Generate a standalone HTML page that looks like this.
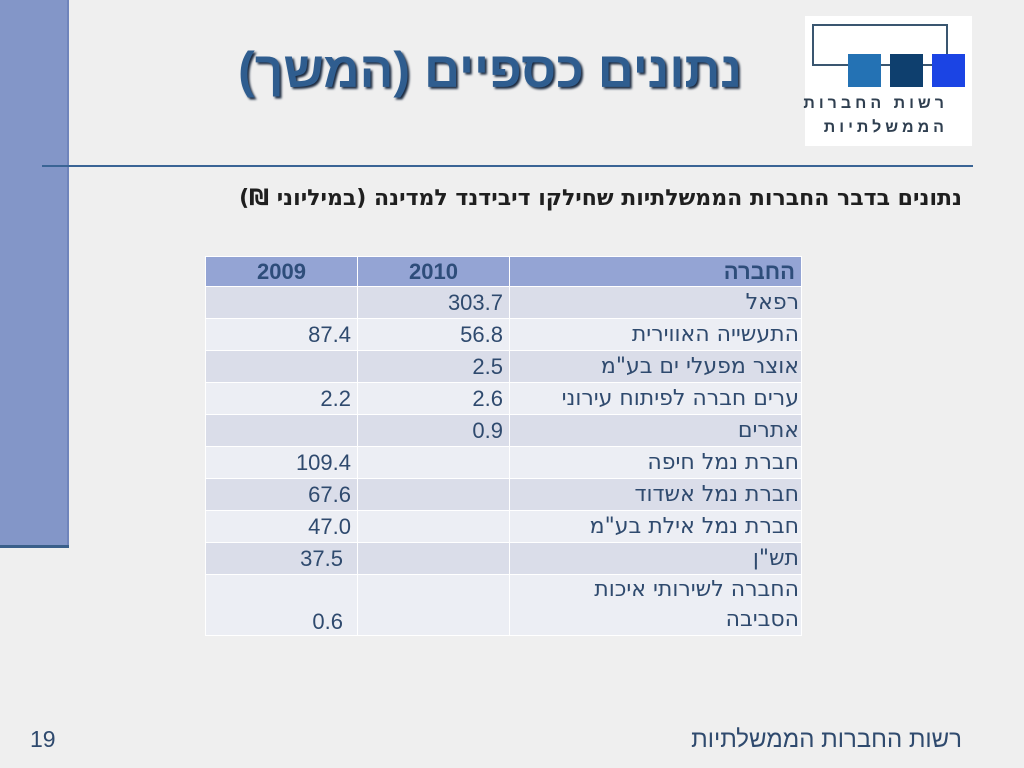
<!DOCTYPE html>
<html><head><meta charset="utf-8"><style>
body{margin:0;width:1024px;height:768px;position:relative;overflow:hidden;background:#efefef;font-family:"Liberation Sans","Noto Sans CJK SC",sans-serif;}
.abs{position:absolute;}
table{border-collapse:collapse;position:absolute;left:205px;top:256px;width:597px;font-size:22px;color:#2f4a6e;table-layout:fixed;}
td{border:1px solid #fff;padding:0 6px;height:31px;line-height:26px;white-space:nowrap;overflow:hidden;}
td.n{text-align:right;}
td.h{text-align:right;direction:rtl;font-family:"DejaVu Sans",sans-serif;font-size:22px;padding-right:2px;}
tr.hd td{background:#94a4d4;font-weight:bold;text-align:center;color:#2e4d7a;height:29px;font-size:22px;}
tr.d td{background:#dadde9;}
tr.l td{background:#eceef4;}
</style></head><body>
<div class="abs" style="left:0;top:0;width:67px;height:545px;background:#8396c8;"></div>
<div class="abs" style="left:0;top:545px;width:69px;height:3px;background:#3a5f8a;"></div>
<div class="abs" style="left:67px;top:0;width:2px;height:545px;background:#6f84bb;"></div>
<div class="abs" style="left:42px;top:165px;width:931px;height:2px;background:#3a6495;"></div>
<div class="abs" style="left:190px;top:40px;width:600px;text-align:center;font-size:50px;font-weight:bold;color:#2f5d8f;text-shadow:2px 2px 2px #1b2a40;direction:rtl;line-height:60px;white-space:nowrap;">נתונים כספיים (המשך)</div>
<div class="abs" style="left:805px;top:16px;width:167px;height:130px;background:#fff;"></div>
<div class="abs" style="left:812px;top:24px;width:132px;height:40px;border:2px solid #3a5670;border-bottom:none;"></div>
<div class="abs" style="left:812px;top:64px;width:134px;height:2px;background:#3a5670;"></div>
<div class="abs" style="left:848px;top:54px;width:33px;height:33px;background:#2472b4;"></div>
<div class="abs" style="left:890px;top:54px;width:33px;height:33px;background:#0e3f6e;"></div>
<div class="abs" style="left:932px;top:54px;width:33px;height:33px;background:#1b44e4;"></div>
<div class="abs" style="left:805px;top:92px;width:143px;text-align:right;direction:rtl;font-size:16px;letter-spacing:4px;color:#2f3f50;line-height:24px;font-weight:bold;white-space:nowrap;">רשות החברות<br>הממשלתיות</div>
<div class="abs" style="left:100px;top:186px;width:862px;text-align:right;direction:rtl;font-weight:bold;color:#1f1f1f;white-space:nowrap;font-family:'DejaVu Sans',sans-serif;font-size:22px;">נתונים בדבר החברות הממשלתיות שחילקו דיבידנד למדינה (במיליוני ₪)</div>
<table>
<tr class="hd"><td style="width:139px">2009</td><td style="width:139px">2010</td><td style="text-align:right;direction:rtl;">החברה</td></tr>
<tr class="d"><td class="n"></td><td class="n">303.7</td><td class="h">רפאל</td></tr>
<tr class="l"><td class="n">87.4</td><td class="n">56.8</td><td class="h">התעשייה האווירית</td></tr>
<tr class="d"><td class="n"></td><td class="n">2.5</td><td class="h">אוצר מפעלי ים בע"מ</td></tr>
<tr class="l"><td class="n">2.2</td><td class="n">2.6</td><td class="h">ערים חברה לפיתוח עירוני</td></tr>
<tr class="d"><td class="n"></td><td class="n">0.9</td><td class="h">אתרים</td></tr>
<tr class="l"><td class="n">109.4</td><td class="n"></td><td class="h">חברת נמל חיפה</td></tr>
<tr class="d"><td class="n">67.6</td><td class="n"></td><td class="h">חברת נמל אשדוד</td></tr>
<tr class="l"><td class="n">47.0</td><td class="n"></td><td class="h">חברת נמל אילת בע"מ</td></tr>
<tr class="d"><td class="n" style="padding-right:14px">37.5</td><td class="n"></td><td class="h">תש"ן</td></tr>
<tr class="l"><td class="n" style="padding-right:14px;vertical-align:bottom;height:60px;">0.6</td><td class="n"></td><td class="h" style="line-height:30px;">החברה לשירותי איכות<br>הסביבה</td></tr>
</table>
<div class="abs" style="left:30px;top:726px;font-size:23px;color:#2f4a6e;">19</div>
<div class="abs" style="left:560px;top:726px;width:402px;text-align:right;direction:rtl;font-size:24px;color:#2f4a6e;white-space:nowrap;">רשות החברות הממשלתיות</div>
</body></html>
